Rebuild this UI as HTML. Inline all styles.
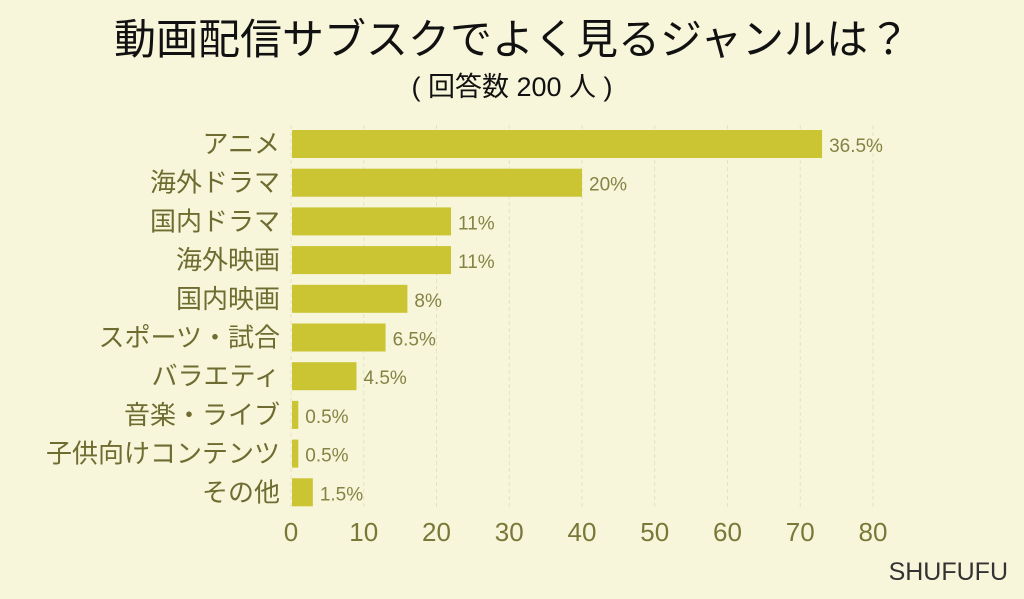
<!DOCTYPE html>
<html><head><meta charset="utf-8"><style>
body{margin:0;background:#f7f6da;}
svg{display:block;font-family:"Liberation Sans","Noto Sans CJK JP",sans-serif;}
</style></head><body>
<svg id="chart" width="1024" height="599" viewBox="0 0 1024 599">
<rect width="1024" height="599" fill="#f7f6da"/>
<text x="512" y="54" text-anchor="middle" font-size="42" fill="#111">動画配信サブスクでよく見るジャンルは？</text>
<text x="512" y="96" text-anchor="middle" font-size="27" fill="#111">( 回答数 200 人 )</text>
<g id="grid"></g><g id="bars"></g><g id="xticks"></g>
<text x="1008" y="580" text-anchor="end" font-size="25" fill="#333">SHUFUFU</text>
</svg>
<script>
const categories=["アニメ","海外ドラマ","国内ドラマ","海外映画","国内映画","スポーツ・試合","バラエティ","音楽・ライブ","子供向けコンテンツ","その他"];
const counts=[73,40,22,22,16,13,9,1,1,3];
const percentLabels=["36.5%","20%","11%","11%","8%","6.5%","4.5%","0.5%","0.5%","1.5%"];
const ticks=[0,10,20,30,40,50,60,70,80];
const NS="http://www.w3.org/2000/svg";
const x=v=>291+v*(873-291)/80;
const yc=i=>144+i*38.7;
function mk(t,a,p){const e=document.createElementNS(NS,t);for(const k in a)e.setAttribute(k,a[k]);p.appendChild(e);return e;}
const grid=document.getElementById('grid'),bars=document.getElementById('bars'),xt=document.getElementById('xticks');
ticks.forEach(t=>{
 const l=mk('line',{x1:x(t),x2:x(t),y1:125,y2:510,stroke:'#e4e2c4','stroke-dasharray':'4,3'},grid);
 
 
 const tx=mk('text',{x:x(t),y:541,'text-anchor':'middle','font-size':26,fill:'#7a7838'},xt);
 tx.textContent=t;
 
 
});
categories.forEach((c,i)=>{
 const r=mk('rect',{x:x(0)+1,y:yc(i)-14,width:x(counts[i])-x(0)-1,height:28,fill:'#cbc433'},bars);
 
 
 const lb=mk('text',{x:280,y:yc(i)+9,'text-anchor':'end','font-size':26,fill:'#6e6c30'},bars);
 lb.textContent=c;
 
 
 const v=mk('text',{x:x(counts[i])+7,y:yc(i)+8,'font-size':19,fill:'#858343'},bars);
 v.textContent=percentLabels[i];
 
 
});
</script>
</body></html>
